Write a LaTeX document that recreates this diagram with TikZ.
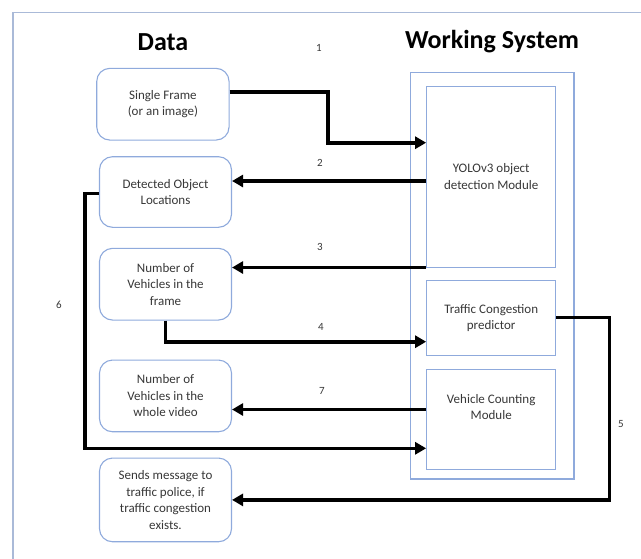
\documentclass[tikz,border=0pt]{standalone}
\usepackage{fontspec}
\setmainfont{Carlito}
\usetikzlibrary{arrows.meta}
\definecolor{boxblue}{RGB}{143,170,220}
\definecolor{framegray}{RGB}{170,186,216}
\definecolor{txtgray}{RGB}{55,55,55}
\tikzset{
  databox/.style={draw=boxblue, line width=1.1pt, rounded corners=13pt, inner sep=0pt,
    minimum width=132pt, align=center, text=txtgray,
    font=\fontsize{13}{16.5}\selectfont},
  modbox/.style={draw=boxblue, line width=1.1pt, inner sep=0pt, minimum width=129pt,
    align=center, text=txtgray, font=\fontsize{13}{16.5}\selectfont},
  bodytext/.style={align=center, text=txtgray, inner sep=0pt, font=\fontsize{13}{16.5}\selectfont},
  heading/.style={inner sep=0pt, font=\fontsize{26}{30}\selectfont\bfseries},
  steplabel/.style={inner sep=0pt, text=txtgray, font=\fontsize{11}{13}\selectfont},
  flow/.style={line width=3.6pt, -{Triangle[length=11pt,width=12pt]}}
}
\begin{document}
\begin{tikzpicture}[x=1pt, y=-1pt]
\useasboundingbox (0,0) rectangle (641,558);

% page frame
\draw[framegray, line width=1.6pt] (645,12.5) -- (13,12.5) -- (13,562);

% headings
\node[heading] (hdata) at (163,42) {Data};
\node[heading] (hsys) at (492,42) {Working System};

% data column
\node[databox, minimum width=132.3pt, minimum height=71.7pt] (frame) at (162.9,104.2) {Single Frame\\(or an image)};
\node[databox, minimum height=70.6pt] (det) at (165.5,192) {Detected Object\\Locations};
\node[databox, minimum height=71.7pt] (nfr) at (165.5,284.2) {Number of\\Vehicles in the\\frame};
\node[databox, minimum height=71.7pt] (nvid) at (165.5,395.9) {Number of\\Vehicles in the\\whole video};
\node[databox, minimum height=83.7pt] (send) at (165.5,499.9) {Sends message to\\traffic police, if\\traffic congestion\\exists.};

% working system
\node[draw=boxblue, line width=1.1pt, inner sep=0pt, minimum width=163.3pt, minimum height=406.3pt] (sys) at (492.35,275.85) {};
\node[modbox, minimum height=181.3pt] (yolo) at (491.2,176.7) {YOLOv3 object\\detection Module};
\node[modbox, minimum height=75pt] (traffic) at (491.2,318.2) {Traffic Congestion\\predictor};
\node[modbox, minimum height=100.3pt] (count) at (491.2,419.2) {};
\node[bodytext] (counttext) at (491.2,407) {Vehicle Counting\\Module};

% connectors
\draw[flow] (frame.east |- 0,91.7) -- (328,91.7) -- (328,142.7) -- (yolo.west |- 0,142.7);
\draw[flow] (yolo.west |- 0,181) -- (det.east |- 0,181);
\draw[flow] (yolo.west |- 0,267.5) -- (nfr.east |- 0,267.5);
\draw[flow] (nfr.south) -- (165.5,341.7) -- (traffic.west |- 0,341.7);
\draw[flow] (traffic.east |- 0,317.3) -- (609.3,317.3) -- (609.3,499.9) -- (send.east);
\draw[flow] (det.west |- 0,193.3) -- (85,193.3) -- (85,448.3) -- (count.west |- 0,448.3);
\draw[flow] (count.west |- 0,409.5) -- (nvid.east |- 0,409.5);

% step numbers
\node[steplabel] (n1) at (319,48) {1};
\node[steplabel] (n2) at (320,163) {2};
\node[steplabel] (n3) at (320,247) {3};
\node[steplabel] (n4) at (321,327) {4};
\node[steplabel] (n5) at (621,424) {5};
\node[steplabel] (n6) at (59,305) {6};
\node[steplabel] (n7) at (322,391) {7};
\end{tikzpicture}
\end{document}
